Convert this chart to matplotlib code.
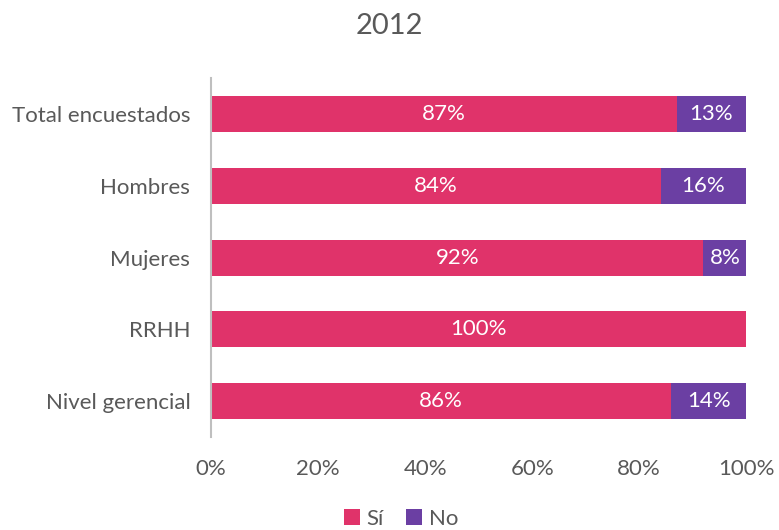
import matplotlib.pyplot as plt
import numpy as np

categories = ['Total encuestados', 'Hombres', 'Mujeres', 'RRHH', 'Nivel gerencial']
si = [87, 84, 92, 100, 86]
no = [13, 16, 8, 0, 14]

plt.rcParams['font.family'] = ['Lato', 'DejaVu Sans']
text_color = '#595959'
pink = '#E0336A'
purple = '#6B3FA3'

fig = plt.figure(figsize=(7.79, 5.30), dpi=100)
ax = fig.add_axes([0.271, 0.175, 0.687, 0.678])

y = np.arange(len(categories))
b1 = ax.barh(y, si, height=0.5, color=pink, label='Sí')
b2 = ax.barh(y, no, height=0.5, left=si, color=purple, label='No')

for i in range(len(categories)):
    ax.text(si[i] / 2, y[i], f'{si[i]}%', ha='center', va='center',
            color='white', fontsize=16)
    if no[i] > 0:
        ax.text(si[i] + no[i] / 2, y[i], f'{no[i]}%', ha='center', va='center',
                color='white', fontsize=16)

ax.set_ylim(len(categories) - 0.5, -0.5)
ax.set_xlim(0, 100)
ax.set_yticks(y)
ax.set_yticklabels(categories, fontsize=16, color=text_color)
ax.set_xticks(np.arange(0, 101, 20))
ax.set_xticklabels([f'{v}%' for v in range(0, 101, 20)], fontsize=16, color=text_color)
ax.tick_params(length=0)
ax.tick_params(axis='y', pad=15)
ax.tick_params(axis='x', pad=16)

for s in ['top', 'right', 'bottom']:
    ax.spines[s].set_visible(False)
ax.spines['left'].set_color('#BFBFBF')
ax.spines['left'].set_linewidth(1.5)

fig.suptitle('2012', y=0.975, fontsize=21, color=text_color)
fig.legend(handles=[b1, b2], loc='lower center', bbox_to_anchor=(0.515, -0.035),
           ncol=2, frameon=False, fontsize=16, handlelength=0.7, handleheight=0.7,
           handletextpad=0.3, columnspacing=1.0, labelcolor=text_color)

fig.savefig('out.png', dpi=100)
